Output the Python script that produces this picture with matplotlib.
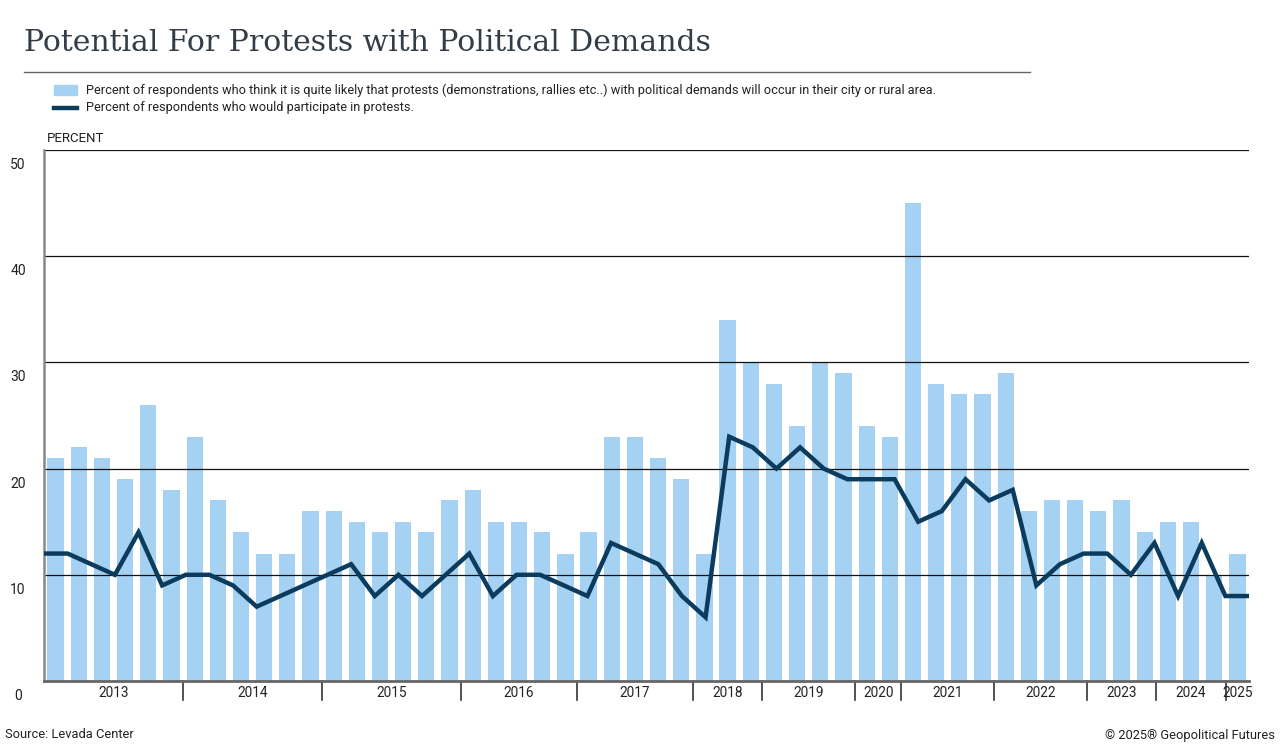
import numpy as np
import matplotlib
matplotlib.use("Agg")
import matplotlib.pyplot as plt
import matplotlib.transforms as mtransforms

plt.rcParams['font.family'] = ['Roboto', 'DejaVu Sans']

# likely protests (bars), one value per poll
likely = [21, 22, 21, 19, 26, 18,
          23, 17, 14, 12, 12, 16,
          16, 15, 14, 15, 14, 17,
          18, 15, 15, 14, 12,
          14, 23, 23, 21, 19,
          12, 34, 30,
          28, 24, 30, 29,
          24, 23,
          45, 28, 27, 27,
          29, 16, 17, 17,
          16, 17, 14,
          15, 15, 10,
          12]
# would participate (line)
participate = [12, 12, 11, 10, 14, 9, 10, 10, 9, 7, 8, 9, 10, 11, 8, 10, 8, 10,
               12, 8, 10, 10, 9, 8, 13, 12, 11, 8, 6, 23, 22, 20, 22, 20, 19, 19,
               19, 15, 16, 19, 17, 18, 9, 11, 12, 12, 10, 13, 8, 13, 8, 8]
years = ['2013', '2014', '2015', '2016', '2017', '2018', '2019', '2020',
         '2021', '2022', '2023', '2024', '2025']
polls_per_year = [6, 6, 6, 5, 5, 3, 4, 2, 4, 4, 3, 3, 1]

bar_color = '#a5d1f2'
line_color = '#0b3c5d'
text_color = '#222222'

fig = plt.figure(figsize=(12.8, 7.48), dpi=100)
ax = fig.add_axes([44 / 1280, 1 - 681 / 748, 1205 / 1280, 531 / 748])

n = len(likely)
x = np.arange(n)
ax.bar(x, likely, width=0.70, color=bar_color, zorder=1)
ax.set_xlim(-0.5, n - 0.5)
ax.set_ylim(0, 50)

for g in [10, 20, 30, 40, 50]:
    ax.axhline(g, color='#111111', lw=0.9, zorder=2)

xl = np.linspace(-0.5, n - 0.5, len(participate))
ax.plot(xl, participate, color=line_color, lw=3.2, zorder=3,
        solid_joinstyle='miter', solid_capstyle='butt')

for s in ['top', 'right']:
    ax.spines[s].set_visible(False)
ax.spines['left'].set_color('#888888')
ax.spines['left'].set_linewidth(1.8)
ax.spines['bottom'].set_color('#666666')
ax.spines['bottom'].set_linewidth(2)
ax.set_xticks([])
ax.set_yticks([])

# y labels sit a bit below their gridlines
off = mtransforms.offset_copy(ax.transData, fig=fig, x=0, y=-15, units='dots')
ylab = mtransforms.blended_transform_factory(fig.transFigure, off)
for v in range(0, 51, 10):
    ax.text(18 / 1280, v, str(v), transform=ylab, ha='center', va='center',
            fontsize=10, color=text_color)

# year dividers and labels
blend = mtransforms.blended_transform_factory(ax.transData, ax.transAxes)
bounds = [-0.5]
for c in polls_per_year:
    bounds.append(bounds[-1] + c)
for i, yr in enumerate(years):
    a, b = bounds[i], bounds[i + 1]
    if i > 0:
        ax.plot([a, a], [0, -0.036], transform=blend, color='#333333',
                lw=1.2, clip_on=False)
    ax.text((a + b) / 2, -0.022, yr, transform=blend, ha='center', va='center',
            fontsize=9.8, color=text_color)

# title and header
fig.text(24 / 1280, 1 - 51 / 748, 'Potential For Protests with Political Demands',
         family=['DejaVu Serif'], fontsize=21.5,
         color='#333d47', va='baseline')
fig.add_artist(plt.Line2D([24 / 1280, 1030 / 1280], [1 - 72 / 748] * 2,
                          color='#666666', lw=1))

fig.add_artist(plt.Rectangle((54 / 1280, 1 - 95 / 748), 23 / 1280, 10 / 748,
                             color=bar_color, transform=fig.transFigure))
fig.add_artist(plt.Line2D([54 / 1280, 77 / 1280], [1 - 108 / 748] * 2,
                          color=line_color, lw=3.2))
fig.text(86 / 1280, 1 - 90 / 748,
         'Percent of respondents who think it is quite likely that protests '
         '(demonstrations, rallies etc..) with political demands will occur in '
         'their city or rural area.', fontsize=9.2, color=text_color, va='center')
fig.text(86 / 1280, 1 - 108 / 748, 'Percent of respondents who would participate in protests.',
         fontsize=9.2, color=text_color, va='center')
fig.text(47 / 1280, 1 - 138 / 748, 'PERCENT', fontsize=9.5, color=text_color, va='center')

fig.text(5 / 1280, 1 - 735 / 748, 'Source: Levada Center', fontsize=9.3,
         color=text_color, va='center')
fig.text(1275 / 1280, 1 - 735 / 748, '© 2025® Geopolitical Futures', fontsize=9.3,
         color=text_color, va='center', ha='right')

fig.savefig('out.png', dpi=100)
